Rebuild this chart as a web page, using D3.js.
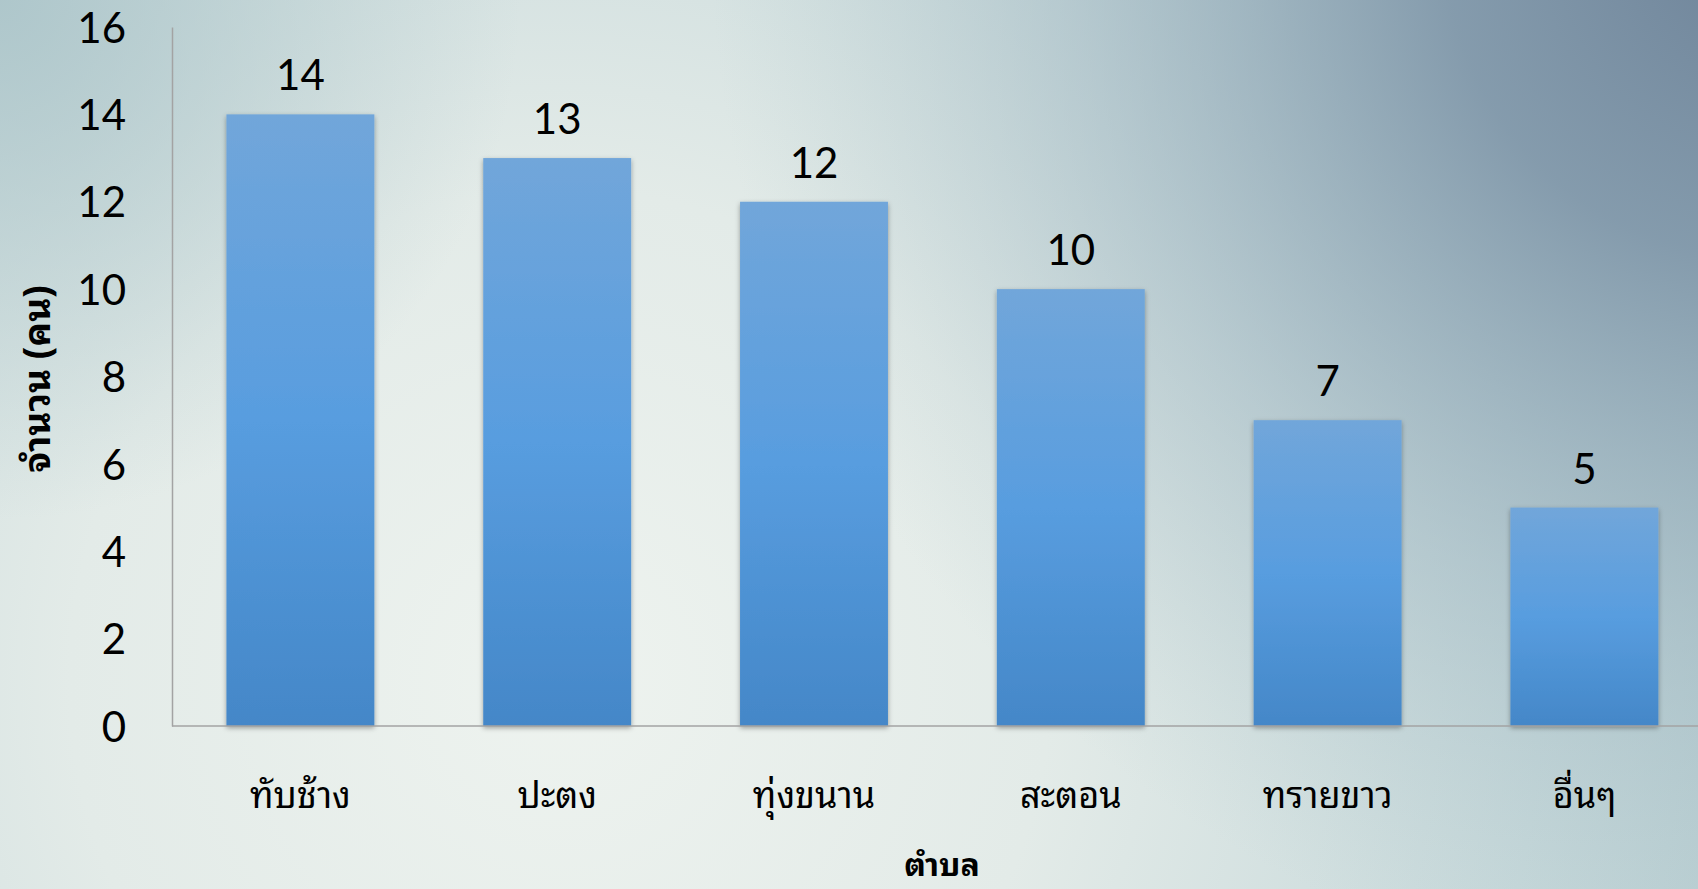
<!DOCTYPE html>
<html>
<head>
<meta charset="utf-8">
<script src="https://cdn.jsdelivr.net/npm/d3@7"></script>
<style>
  html, body { margin: 0; padding: 0; overflow: hidden; }
  svg { display: block; }
  .num { font-family: Lato, "Open Sans", sans-serif; font-size: 42px; fill: #000; }
  .thai { font-family: "Noto Sans Thai Looped", "Noto Sans Thai", "Noto Sans", "DejaVu Sans", sans-serif; fill: #000; }
</style>
</head>
<body>
<div id="chart"></div>
<script>
// data
var categories = ['ทับช้าง', 'ปะตง', 'ทุ่งขนาน', 'สะตอน', 'ทรายขาว', 'อื่นๆ']
var values = [14, 13, 12, 10, 7, 5]
var yTicks = [0, 2, 4, 6, 8, 10, 12, 14, 16]
var xTitle = 'ตำบล'
var yTitle = 'จำนวน (คน)'

var width = 1698, height = 889
var margin = { left: 172, top: 27, bottom: 163 }
var plotBottom = height - margin.bottom

var svg = d3.select('#chart').append('svg')
    .attr('width', width)
    .attr('height', height)

var defs = svg.append('defs')

// background gradients
var bg = defs.append('radialGradient')
    .attr('id', 'bgLight')
    .attr('gradientUnits', 'userSpaceOnUse')
    .attr('cx', 560).attr('cy', 680).attr('r', 1400)
bg.append('stop').attr('offset', 0).attr('stop-color', '#eef3ef')
bg.append('stop').attr('offset', 0.35).attr('stop-color', '#e3ebe8')
bg.append('stop').attr('offset', 0.7).attr('stop-color', '#c6d8da')
bg.append('stop').attr('offset', 1).attr('stop-color', '#aec6cb')

var dark = defs.append('radialGradient')
    .attr('id', 'bgDark')
    .attr('gradientUnits', 'userSpaceOnUse')
    .attr('cx', 1760).attr('cy', -60).attr('r', 1050)
dark.append('stop').attr('offset', 0).attr('stop-color', '#6e8399').attr('stop-opacity', 1)
dark.append('stop').attr('offset', 0.3).attr('stop-color', '#7e95a8').attr('stop-opacity', 0.9)
dark.append('stop').attr('offset', 0.65).attr('stop-color', '#96afbc').attr('stop-opacity', 0.45)
dark.append('stop').attr('offset', 1).attr('stop-color', '#a9c2c8').attr('stop-opacity', 0)

var corner = defs.append('radialGradient')
    .attr('id', 'bgCorner')
    .attr('gradientUnits', 'userSpaceOnUse')
    .attr('cx', 0).attr('cy', 0).attr('r', 520)
corner.append('stop').attr('offset', 0).attr('stop-color', '#a9c3c8').attr('stop-opacity', 0.85)
corner.append('stop').attr('offset', 1).attr('stop-color', '#a9c3c8').attr('stop-opacity', 0)

// bar fill
var barGrad = defs.append('linearGradient')
    .attr('id', 'barGrad')
    .attr('x1', 0).attr('y1', 0).attr('x2', 0).attr('y2', 1)
barGrad.append('stop').attr('offset', 0).attr('stop-color', '#71a6da')
barGrad.append('stop').attr('offset', 0.5).attr('stop-color', '#589ddf')
barGrad.append('stop').attr('offset', 1).attr('stop-color', '#4487c8')

var shadow = defs.append('filter')
    .attr('id', 'shadow')
    .attr('x', '-20%').attr('y', '-10%').attr('width', '140%').attr('height', '120%')
shadow.append('feDropShadow')
    .attr('dx', 0).attr('dy', 2)
    .attr('stdDeviation', 2.5)
    .attr('flood-color', '#000')
    .attr('flood-opacity', 0.35)

svg.append('rect').attr('width', width).attr('height', height).attr('fill', 'url(#bgLight)')
svg.append('rect').attr('width', width).attr('height', height).attr('fill', 'url(#bgCorner)')
svg.append('rect').attr('width', width).attr('height', height).attr('fill', 'url(#bgDark)')

// scales
var x = d3.scaleBand()
    .domain(categories)
    .range([margin.left, margin.left + 6 * 256.8])
    .paddingInner(0.424)
    .paddingOuter(0.212)

var y = d3.scaleLinear()
    .domain([0, 16])
    .range([plotBottom, margin.top])

// bars
svg.append('g')
    .selectAll('rect')
    .data(values)
    .enter()
    .append('rect')
    .attr('x', (d, i) => x(categories[i]))
    .attr('y', d => y(d))
    .attr('width', x.bandwidth())
    .attr('height', d => y(0) - y(d))
    .attr('fill', 'url(#barGrad)')
    .attr('filter', 'url(#shadow)')

// axes
var yAxis = d3.axisLeft(y).tickValues(yTicks).tickSize(0).tickPadding(46)
var gy = svg.append('g')
    .attr('transform', 'translate(' + margin.left + ',0)')
    .call(yAxis)
gy.select('.domain').attr('stroke', '#a3a3a3').attr('stroke-width', 1.5)
gy.selectAll('text').attr('class', 'num').attr('font-family', null).attr('font-size', null).attr('dy', '0.36em')

svg.append('line')
    .attr('x1', margin.left).attr('x2', width)
    .attr('y1', plotBottom).attr('y2', plotBottom)
    .attr('stroke', '#a3a3a3').attr('stroke-width', 1.5)

// value labels
svg.append('g')
    .selectAll('text')
    .data(values)
    .enter()
    .append('text')
    .attr('class', 'num')
    .attr('text-anchor', 'middle')
    .attr('x', (d, i) => x(categories[i]) + x.bandwidth() / 2)
    .attr('y', d => y(d) - 24)
    .text(d => d)

// category labels
svg.append('g')
    .selectAll('text')
    .data(categories)
    .enter()
    .append('text')
    .attr('class', 'thai')
    .attr('font-size', 36)
    .attr('text-anchor', 'middle')
    .attr('x', d => x(d) + x.bandwidth() / 2)
    .attr('y', 808)
    .text(d => d)

// axis titles
svg.append('text')
    .attr('class', 'thai')
    .attr('font-size', 32)
    .attr('font-weight', 'bold')
    .attr('text-anchor', 'middle')
    .attr('x', 942)
    .attr('y', 876)
    .text(xTitle)

svg.append('text')
    .attr('class', 'thai')
    .attr('font-size', 37)
    .attr('font-weight', 'bold')
    .attr('text-anchor', 'middle')
    .attr('transform', 'translate(50,379) rotate(-90)')
    .text(yTitle)
</script>
</body>
</html>
